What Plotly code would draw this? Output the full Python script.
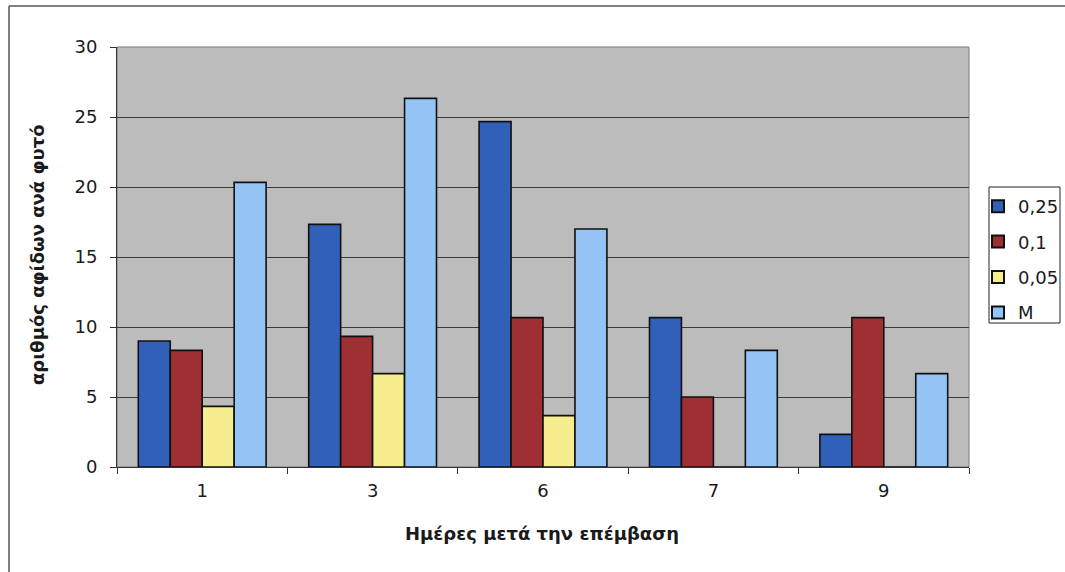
import plotly.graph_objects as go

# Days after treatment (categories) and aphid counts per plant for each dose
days = ["1", "3", "6", "7", "9"]
dose_025 = [9.0, 17.33, 24.67, 10.67, 2.33]
dose_01 = [8.33, 9.33, 10.67, 5.0, 10.67]
dose_005 = [4.33, 6.67, 3.67, 0, 0]
control_m = [20.33, 26.33, 17.0, 8.33, 6.67]

series_names = ["0,25", "0,1", "0,05", "M"]
series_values = [dose_025, dose_01, dose_005, control_m]
series_colors = ["#3160b8", "#9e2f33", "#f6ee8e", "#93c4f5"]

y_ticks = [0, 5, 10, 15, 20, 25, 30]

font_family = "DejaVu Sans, Verdana, sans-serif"
text_color = "#1a1a1a"

fig = go.Figure()
for name, vals, col in zip(series_names, series_values, series_colors):
    fig.add_trace(go.Bar(
        x=days, y=vals, name=name, legendgroup=name,
        marker=dict(color=col, line=dict(color="#111111", width=1.6)),
    ))

L, R, T, B = 117, 96, 47, 105
W, H = 1065, 572
pw, ph = W - L - R, H - T - B


def px_x(v):
    return (v - L) / pw


def px_y(v):
    return (H - B - v) / ph


fig.update_layout(
    width=W, height=H,
    margin=dict(l=L, r=R, t=T, b=B, autoexpand=False),
    paper_bgcolor="white",
    plot_bgcolor="#bcbcbc",
    barmode="group",
    bargap=0.25,
    bargroupgap=0,
    font=dict(family=font_family, size=18, color=text_color),
    showlegend=True,
    legend=dict(
        x=px_x(978), y=px_y(188),
        xanchor="left", yanchor="top",
        bgcolor="rgba(0,0,0,0)", borderwidth=0,
        font=dict(family=font_family, size=18, color=text_color),
        itemsizing="constant", tracegroupgap=9, itemwidth=30,
    ),
    xaxis=dict(
        type="category",
        showline=True, linecolor="#333333", linewidth=1,
        ticks="outside", tickson="boundaries", ticklen=6,
        tickcolor="#333333",
        showgrid=False,
        tickfont=dict(size=18),
        ticklabelstandoff=7,
    ),
    yaxis=dict(
        range=[0, 30], tickvals=y_ticks,
        showline=True, linecolor="#333333", linewidth=1,
        ticks="outside", ticklen=6, tickcolor="#333333",
        showgrid=True, gridcolor="#3a3a3a", gridwidth=1,
        zeroline=False,
        tickfont=dict(size=18),
        ticklabelstandoff=9,
    ),
)

# Axis titles
fig.add_annotation(
    text="<b>Ημέρες μετά την επέμβαση</b>",
    xref="paper", yref="paper",
    x=px_x(542), y=px_y(533),
    showarrow=False, xanchor="center", yanchor="middle",
    font=dict(family=font_family, size=18, color=text_color),
)
fig.add_annotation(
    text="<b>αριθμός αφίδων ανά φυτό</b>",
    xref="paper", yref="paper",
    x=px_x(37), y=px_y(255),
    textangle=-90,
    showarrow=False, xanchor="center", yanchor="middle",
    font=dict(family=font_family, size=18, color=text_color),
)

# Legend box
fig.add_shape(type="rect", xref="paper", yref="paper",
              x0=px_x(989), x1=px_x(1060), y0=px_y(323), y1=px_y(187),
              line=dict(color="#222222", width=1), fillcolor="white",
              layer="below")

# Plot-area frame and outer chart frame (top and left edges)
fig.add_shape(type="rect", xref="paper", yref="paper",
              x0=0, x1=1, y0=0, y1=1,
              line=dict(color="#7a7a7a", width=1), layer="below")
fig.add_shape(type="line", xref="paper", yref="paper",
              x0=px_x(9), x1=px_x(W + 5), y0=px_y(6), y1=px_y(6),
              line=dict(color="#555555", width=1.5))
fig.add_shape(type="line", xref="paper", yref="paper",
              x0=px_x(9), x1=px_x(9), y0=px_y(6), y1=px_y(H + 5),
              line=dict(color="#555555", width=1.5))

fig.write_html("out.html")
